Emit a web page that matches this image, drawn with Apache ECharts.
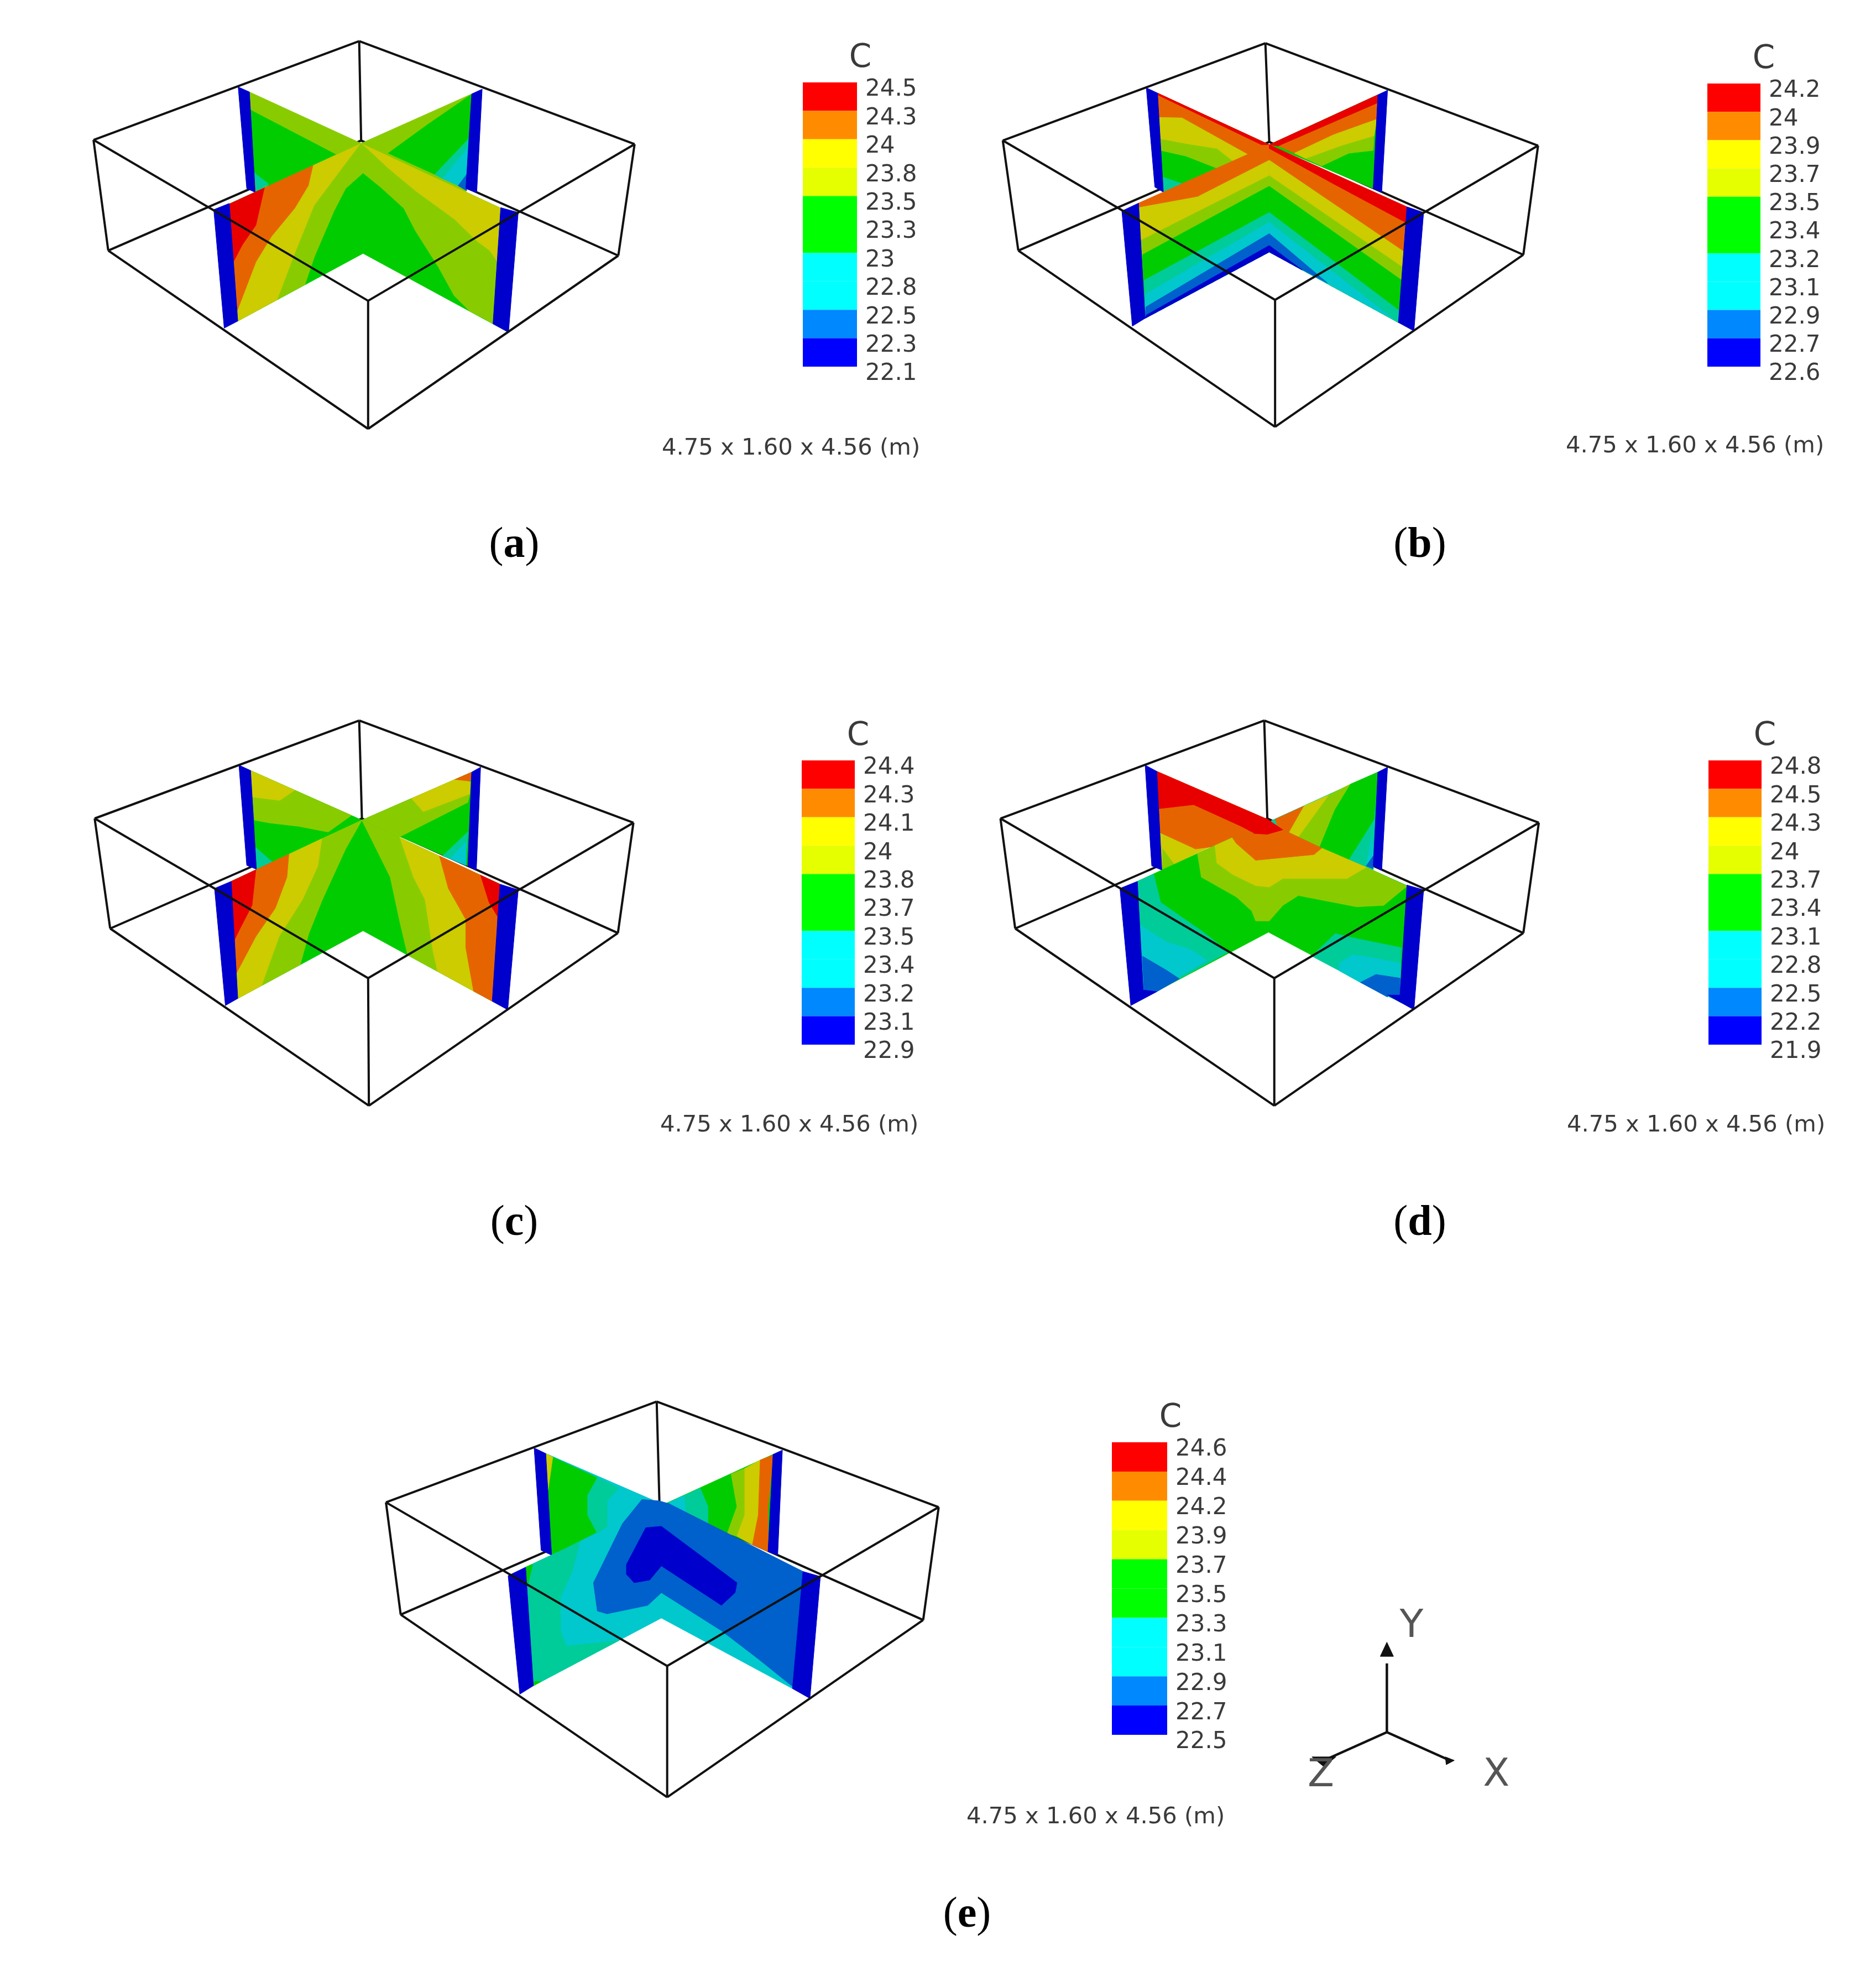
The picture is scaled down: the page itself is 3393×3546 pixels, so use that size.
<!DOCTYPE html>
<html>
<head>
<meta charset="utf-8">
<title>Temperature contours</title>
<script src="https://cdn.jsdelivr.net/npm/echarts@6/dist/echarts.min.js"></script>
<style>
  html, body { margin: 0; padding: 0; background: #fff; }
  #main { width: 3393px; height: 3546px; }
</style>
</head>
<body>
<div id="main"></div>
<script>
// contour levels, legend colours are brighter than the shaded planes
const legendColors = ["#ff0000", "#ff8c00", "#ffff00", "#e6ff00", "#00ff00", "#00ff00", "#00ffff", "#00ffff", "#0088ff", "#0000ff"];
const levelColors = { R: "#e80000", O: "#e66400", Y: "#cccc00", L: "#88cc00", G: "#00cc00", T: "#00cc99", C: "#00c8cc", B: "#0060cc", D: "#0000cc" };

const labelsA = ["24.5", "24.3", "24", "23.8", "23.5", "23.3", "23", "22.8", "22.5", "22.3", "22.1"];
const labelsB = ["24.2", "24", "23.9", "23.7", "23.5", "23.4", "23.2", "23.1", "22.9", "22.7", "22.6"];
const labelsC = ["24.4", "24.3", "24.1", "24", "23.8", "23.7", "23.5", "23.4", "23.2", "23.1", "22.9"];
const labelsD = ["24.8", "24.5", "24.3", "24", "23.7", "23.4", "23.1", "22.8", "22.5", "22.2", "21.9"];
const labelsE = ["24.6", "24.4", "24.2", "23.9", "23.7", "23.5", "23.3", "23.1", "22.9", "22.7", "22.5"];

const sizeText = "4.75 x 1.60 x 4.56 (m)";

// box corners: back top, left top, right top, front top, left bottom, right bottom, front bottom, back bottom
const boxA = [[755, 48], [70, 398], [1465, 413], [778, 968], [108, 790], [1423, 808], [778, 1422], [760, 400]];
const boxB = [[725, 55], [48, 400], [1428, 418], [750, 965], [88, 790], [1390, 805], [750, 1415], [735, 405]];
const boxC = [[755, 45], [73, 392], [1462, 407], [778, 958], [113, 782], [1422, 798], [780, 1410], [762, 392]];
const boxD = [[722, 45], [42, 392], [1430, 407], [748, 958], [80, 782], [1390, 798], [748, 1410], [730, 392]];
const boxE = [[738, 48], [40, 405], [1465, 422], [765, 985], [78, 803], [1425, 822], [765, 1450], [745, 405]];

// contour bands, [level, x, y, x, y, ...], painted in order
const bandsA = [
  ["L", 472,228, 760,410, 485,584],
  ["G", 472,290, 695,450, 520,560, 485,515],
  ["T", 485,515, 522,555, 490,580],
  ["D", 443,210, 472,228, 487,584, 465,570],
  ["L", 1045,235, 760,410, 1030,590],
  ["G", 1043,238, 1040,390, 950,520, 830,445, 930,345],
  ["T", 1040,390, 950,520, 970,535, 1038,420],
  ["C", 1038,420, 970,535, 1010,560, 1035,515],
  ["B", 1035,515, 1010,560, 1032,578],
  ["D", 1072,218, 1045,235, 1030,570, 1058,585],
  ["G", 420,625, 760,410, 1120,640, 1100,1050, 765,800, 442,1040],
  ["R", 420,625, 512,567, 490,700, 455,770, 432,830],
  ["O", 512,567, 637,488, 625,560, 590,640, 530,740, 490,830, 440,1010, 432,830, 455,770, 490,700],
  ["Y", 637,488, 760,410, 700,520, 640,630, 590,800, 545,963, 442,1040, 440,1010, 490,830, 530,740, 590,640, 625,560],
  ["L", 760,410, 765,515, 720,570, 690,650, 640,810, 615,911, 545,963, 590,800, 640,630, 700,520],
  ["Y", 760,410, 1120,640, 1110,830, 1090,790, 1060,760, 1000,680, 900,580, 830,500],
  ["L", 760,410, 830,500, 900,580, 1000,680, 1060,760, 1090,790, 1110,830, 1100,1050, 1075,1030, 1040,1005, 1000,950, 960,850, 900,720, 870,640, 810,565, 765,515],
  ["D", 380,645, 420,623, 442,1040, 407,1065],
  ["D", 1120,638, 1165,655, 1140,1080, 1100,1050],
];

const bandsB = [
  ["G", 447,232, 735,415, 462,583],
  ["O", 447,232, 735,415, 680,450, 510,320, 447,318],
  ["R", 447,232, 735,415, 715,415, 447,238],
  ["Y", 447,318, 510,320, 680,450, 640,473, 600,430, 530,415, 452,395],
  ["L", 452,395, 530,415, 600,430, 640,473, 600,498, 520,455, 455,435],
  ["T", 462,530, 510,553, 462,583],
  ["D", 418,213, 447,232, 462,583, 440,565],
  ["G", 1015,238, 735,415, 1003,570],
  ["R", 1015,238, 1015,268, 760,420, 735,415],
  ["O", 1015,268, 1012,325, 900,380, 800,445, 760,420],
  ["Y", 1012,325, 1005,385, 920,420, 830,465, 800,445, 900,380],
  ["L", 1005,385, 1003,435, 940,445, 870,490, 830,465, 920,420],
  ["D", 1040,222, 1015,238, 1003,570, 1025,583],
  ["O", 398,622, 735,415, 735,795, 415,1030],
  ["Y", 398,638, 470,620, 550,600, 735,470, 735,795, 415,1030],
  ["L", 403,755, 735,525, 735,795, 415,1030],
  ["G", 408,805, 735,562, 735,795, 415,1030],
  ["T", 413,895, 735,655, 735,795, 415,1030],
  ["C", 415,945, 735,690, 735,795, 415,1030],
  ["B", 417,990, 735,730, 735,795, 415,1030],
  ["D", 419,1018, 735,772, 735,795, 415,1030],
  ["R", 735,415, 1090,635, 1068,1045, 735,795],
  ["O", 735,430, 900,555, 1090,695, 1068,1045, 735,795],
  ["Y", 735,470, 1083,795, 1068,1045, 735,795],
  ["L", 735,525, 1079,850, 1068,1045, 735,795],
  ["G", 735,562, 1076,895, 1068,1045, 735,795],
  ["T", 735,655, 1072,1005, 1068,1045, 735,795],
  ["C", 735,690, 1062,1040, 735,795],
  ["B", 735,730, 885,905, 735,795],
  ["D", 735,772, 820,859, 735,795],
  ["D", 355,650, 398,622, 415,1030, 382,1058],
  ["D", 1090,635, 1133,655, 1108,1075, 1068,1045],
];

const bandsC = [
  ["G", 475,222, 762,398, 490,572],
  ["Y", 475,222, 590,293, 550,330, 480,318],
  ["L", 480,318, 550,330, 590,293, 735,381, 675,440, 600,420, 525,408, 485,398],
  ["T", 488,495, 530,545, 490,572],
  ["D", 445,203, 475,222, 490,572, 465,558],
  ["G", 1045,228, 762,398, 1035,560],
  ["L", 762,398, 890,321, 920,368, 1040,305, 1035,335, 855,460, 800,430],
  ["O", 1045,228, 1000,255, 1010,265, 1042,258],
  ["Y", 1000,255, 1042,262, 1040,305, 920,368, 890,321],
  ["T", 1035,440, 970,525, 990,535, 1033,470],
  ["C", 1033,470, 990,535, 1030,558],
  ["D", 1068,210, 1045,228, 1035,560, 1057,575],
  ["G", 425,615, 762,398, 1118,625, 1098,1040, 765,790, 442,1030],
  ["R", 425,615, 490,573, 480,700, 450,780, 432,830],
  ["O", 490,573, 575,518, 570,600, 540,710, 490,810, 438,945, 432,830, 450,780, 480,700],
  ["Y", 575,518, 660,463, 650,560, 610,680, 550,810, 505,983, 442,1030, 438,945, 490,810, 540,710, 570,600],
  ["L", 660,463, 762,398, 720,500, 660,680, 625,800, 603,910, 505,983, 550,810, 610,680, 650,560],
  ["L", 762,398, 860,460, 895,600, 925,680, 945,860, 957,934, 880,876, 860,760, 835,600],
  ["Y", 860,460, 962,525, 985,640, 1030,750, 1030,850, 1050,1004, 957,934, 945,860, 925,680, 895,600],
  ["O", 962,525, 1068,593, 1090,690, 1112,740, 1112,850, 1098,1040, 1050,1004, 1030,850, 1030,750, 985,640],
  ["R", 1068,593, 1118,625, 1112,850, 1112,740, 1090,690],
  ["D", 382,640, 425,615, 442,1030, 410,1055],
  ["D", 1118,625, 1165,645, 1138,1070, 1098,1040],
];

const bandsD = [
  ["Y", 445,225, 730,395, 458,575],
  ["R", 445,225, 730,395, 770,430, 695,445, 660,420, 540,345, 445,360],
  ["O", 445,360, 540,345, 660,420, 695,445, 640,480, 600,490, 545,500, 450,440],
  ["L", 460,500, 490,555, 460,575],
  ["D", 415,203, 445,225, 458,575, 432,560],
  ["T", 1015,228, 740,400, 760,432, 1003,575],
  ["O", 750,395, 825,348, 785,445, 760,432],
  ["Y", 825,348, 890,308, 810,460, 785,445],
  ["L", 890,308, 945,270, 905,360, 865,494, 810,460],
  ["G", 945,270, 1015,228, 1005,395, 940,537, 865,494, 905,360],
  ["C", 1000,450, 985,560, 1003,530],
  ["B", 1003,525, 985,560, 1003,570],
  ["D", 1040,210, 1015,228, 1003,560, 1025,575],
  ["G", 395,615, 595,488, 640,460, 695,445, 770,432, 870,497, 985,565, 1090,630, 1075,1045, 733,795, 410,1030],
  ["T", 395,615, 437,590, 455,690, 560,790, 630,865, 410,1030],
  ["C", 402,770, 470,830, 530,855, 575,895, 445,1000, 410,1000],
  ["B", 408,880, 470,930, 503,960, 445,1006, 412,1000],
  ["T", 845,880, 905,800, 950,815, 1075,850, 1072,1040, 1045,1025, 970,973, 915,931],
  ["C", 915,931, 915,905, 950,875, 1000,885, 1072,905, 1072,958, 1010,945, 970,973],
  ["B", 970,973, 1010,945, 1072,958, 1072,1018, 1040,1018, 1040,1025],
  ["L", 550,517, 595,488, 600,550, 640,590, 700,630, 735,635, 770,605, 935,605, 985,565, 1090,632, 1030,700, 960,705, 810,665, 770,700, 735,755, 700,755, 690,720, 650,670, 560,600],
  ["Y", 640,460, 650,480, 700,540, 850,520, 870,497, 985,565, 935,605, 770,605, 735,635, 700,630, 640,590, 600,550, 595,488],
  ["O", 640,460, 695,445, 770,432, 870,497, 850,520, 700,540, 650,480],
  ["R", 695,445, 730,395, 770,432, 730,448],
  ["D", 350,640, 395,615, 410,1000, 445,1006, 378,1055],
  ["D", 1090,628, 1133,645, 1108,1070, 1040,1018, 1072,1018],
];

const bandsE = [
  ["C", 452,232, 750,410, 467,592],
  ["G", 470,245, 585,318, 560,380, 585,510, 467,592, 458,360],
  ["Y", 452,232, 470,245, 458,360],
  ["T", 585,318, 640,355, 610,400, 610,490, 585,515, 560,450, 560,380],
  ["D", 422,212, 452,232, 467,592, 440,575],
  ["G", 1038,235, 760,410, 1025,580],
  ["C", 770,405, 810,380, 820,450, 775,422],
  ["T", 810,380, 850,355, 870,420, 870,485, 815,450],
  ["L", 930,305, 965,285, 965,450, 945,525, 920,515, 945,420],
  ["Y", 965,285, 1005,255, 1000,450, 985,555, 945,525, 965,450],
  ["O", 1005,255, 1038,238, 1025,430, 1025,580, 985,555, 1000,450],
  ["D", 1062,220, 1038,235, 1025,580, 1050,592],
  ["C", 400,635, 750,410, 1115,650, 1088,1065, 750,815, 420,1055],
  ["T", 400,635, 540,545, 520,650, 490,740, 490,860, 505,915, 640,895, 420,1055, 405,700],
  ["G", 400,635, 418,625, 405,700],
  ["G", 420,1055, 440,1040, 422,1040],
  ["B", 700,395, 745,400, 770,410, 1115,650, 1095,1065, 1000,960, 905,860, 750,725, 715,770, 610,800, 585,790, 575,690, 600,620, 650,480],
  ["D", 710,495, 750,490, 945,690, 940,725, 905,770, 750,630, 720,680, 680,690, 660,660, 660,625],
  ["D", 355,665, 400,635, 420,1055, 385,1085],
  ["D", 1115,650, 1160,668, 1133,1100, 1088,1065],
];

// triad lines
const triadLines = [[[1030, 960], [1030, 765]], [[1030, 960], [1240, 1040]], [[1030, 960], [820, 1040]]];
const triadHeads = [[1030, 705, 1052, 745, 1008, 745], [820, 1058, 780, 1030, 860, 1030], [1255, 1040, 1228, 1052, 1225, 1030]];
const triadText = [["Y", 1112, 662], ["X", 1395, 1083], ["Z", 810, 1084]];

// edges that sit behind / in front of the planes (indexes into the box arrays)
const backEdges = [[0, 7], [4, 7], [5, 7]];
const frontEdges = [[0, 1], [0, 2], [1, 3], [2, 3], [1, 4], [2, 5], [4, 6], [5, 6], [3, 6]];

const panels = [
  { id: "a", box: boxA, bands: bandsA, labels: labelsA, view: [120, 50], bar: [1452, 149, 98, 514], unit: [1556, 106], size: [1197, 811], cap: [925, 982] },
  { id: "b", box: boxB, bands: bandsB, labels: labelsB, view: [1780, 50], bar: [3088, 151, 96, 512], unit: [3190, 108], size: [2832, 807], cap: [2563, 982] },
  { id: "c", box: boxC, bands: bandsC, labels: labelsC, view: [120, 1280], bar: [1450, 1375, 96, 514], unit: [1552, 1332], size: [1194, 2035], cap: [925, 2208] },
  { id: "d", box: boxD, bands: bandsD, labels: labelsD, view: [1780, 1280], bar: [3090, 1375, 96, 514], unit: [3192, 1332], size: [2834, 2035], cap: [2563, 2208] },
  { id: "e", box: boxE, bands: bandsE, labels: labelsE, view: [670, 2510], bar: [2011, 2608, 100, 529], unit: [2117, 2565], size: [1748, 3286], cap: [1744, 3459] },
];

const textColor = "#3a3a3a";
const lineColor = "#111";
const textFont = "DejaVu Sans";

const grid = [], xAxis = [], yAxis = [], series = [], graphic = [], title = [];

function addViewGrid(left, top, width, height) {
  const idx = grid.length;
  grid.push({ left, top, width, height });
  xAxis.push({ type: "value", gridIndex: idx, min: 0, max: 1568, show: false });
  yAxis.push({ type: "value", gridIndex: idx, min: 0, max: 1568, inverse: true, show: false });
  return idx;
}

function lineSeries(idx, lines, width, z) {
  return {
    type: "custom", xAxisIndex: idx, yAxisIndex: idx, z, silent: true, clip: false,
    data: lines.map((l, i) => [i]),
    encode: { x: [], y: [] },
    renderItem: (params, api) => {
      const l = lines[params.dataIndex];
      return {
        type: "polyline",
        shape: { points: l.map((p) => api.coord(p)) },
        style: { stroke: lineColor, lineWidth: width, fill: null },
      };
    },
  };
}

function polySeries(idx, polys, colorOf, z) {
  return {
    type: "custom", xAxisIndex: idx, yAxisIndex: idx, z, silent: true, clip: false,
    data: polys.map((p, i) => [i]),
    encode: { x: [], y: [] },
    renderItem: (params, api) => {
      const row = polys[params.dataIndex];
      const pts = [];
      for (let i = 1; i < row.length; i += 2) pts.push(api.coord([row[i], row[i + 1]]));
      const c = colorOf(row[0]);
      return {
        type: "polygon",
        shape: { points: pts },
        style: { fill: c, stroke: c, lineWidth: 1 },
      };
    },
  };
}

panels.forEach((p) => {
  // the 3D view
  const v = addViewGrid(p.view[0], p.view[1], 1100, 800);
  series.push(lineSeries(v, backEdges.map((e) => [p.box[e[0]], p.box[e[1]]]), 4, 1));
  series.push(polySeries(v, p.bands, (k) => levelColors[k], 2));
  series.push(lineSeries(v, frontEdges.map((e) => [p.box[e[0]], p.box[e[1]]]), 4, 3));

  // the colour bar
  const g = grid.length;
  grid.push({ left: p.bar[0], top: p.bar[1], width: p.bar[2], height: p.bar[3] });
  xAxis.push({ type: "category", gridIndex: g, data: ["C"], show: false });
  yAxis.push({
    type: "value", gridIndex: g, min: 0, max: 10, interval: 1, inverse: true, position: "right",
    axisLine: { show: false }, axisTick: { show: false }, splitLine: { show: false },
    axisLabel: {
      margin: 15, fontFamily: textFont, fontSize: 42, color: textColor,
      showMinLabel: true, showMaxLabel: true, verticalAlign: "top", lineHeight: 27,
      formatter: (val) => p.labels[val],
    },
  });
  legendColors.forEach((c, i) => {
    series.push({
      type: "bar", xAxisIndex: g, yAxisIndex: g, stack: "bar" + p.id, barWidth: "100%",
      silent: true, itemStyle: { color: c }, data: [1],
    });
  });

  graphic.push({
    type: "text", x: p.unit[0], y: p.unit[1],
    style: { text: "C", font: "58px " + textFont, fill: textColor, textAlign: "center", textVerticalAlign: "middle" },
  });
  graphic.push({
    type: "text", x: p.size[0], y: p.size[1],
    style: { text: sizeText, font: "41.7px " + textFont, fill: textColor, textAlign: "left", textVerticalAlign: "middle" },
  });
  title.push({
    text: "{p|(}{b|" + p.id + "}{p|)}",
    left: p.cap[0], top: p.cap[1], textAlign: "center", textVerticalAlign: "middle",
    textStyle: {
      rich: {
        p: { fontFamily: "Liberation Serif", fontSize: 78, fontWeight: "normal", color: "#000" },
        b: { fontFamily: "Liberation Serif", fontSize: 78, fontWeight: "bold", color: "#000" },
      },
    },
  });
});

// the axis triad next to panel e
const t = addViewGrid(1950, 2520, 850, 1000);
series.push(lineSeries(t, triadLines, 4.5, 3));
series.push(polySeries(t, triadHeads.map((h) => ["k"].concat(h)), () => lineColor, 3));
series.push({
  type: "custom", xAxisIndex: t, yAxisIndex: t, z: 3, silent: true, clip: false,
  data: triadText.map((l, i) => [i]),
  encode: { x: [], y: [] },
  renderItem: (params, api) => {
    const l = triadText[params.dataIndex];
    const c = api.coord([l[1], l[2]]);
    return {
      type: "text", x: c[0], y: c[1],
      style: { text: l[0], font: "70px " + textFont, fill: "#555", textAlign: "center", textVerticalAlign: "middle" },
    };
  },
});

const chart = echarts.init(document.getElementById("main"));
chart.setOption({
  backgroundColor: "#fff",
  animation: false,
  title, grid, xAxis, yAxis, series, graphic,
});
</script>
</body>
</html>
